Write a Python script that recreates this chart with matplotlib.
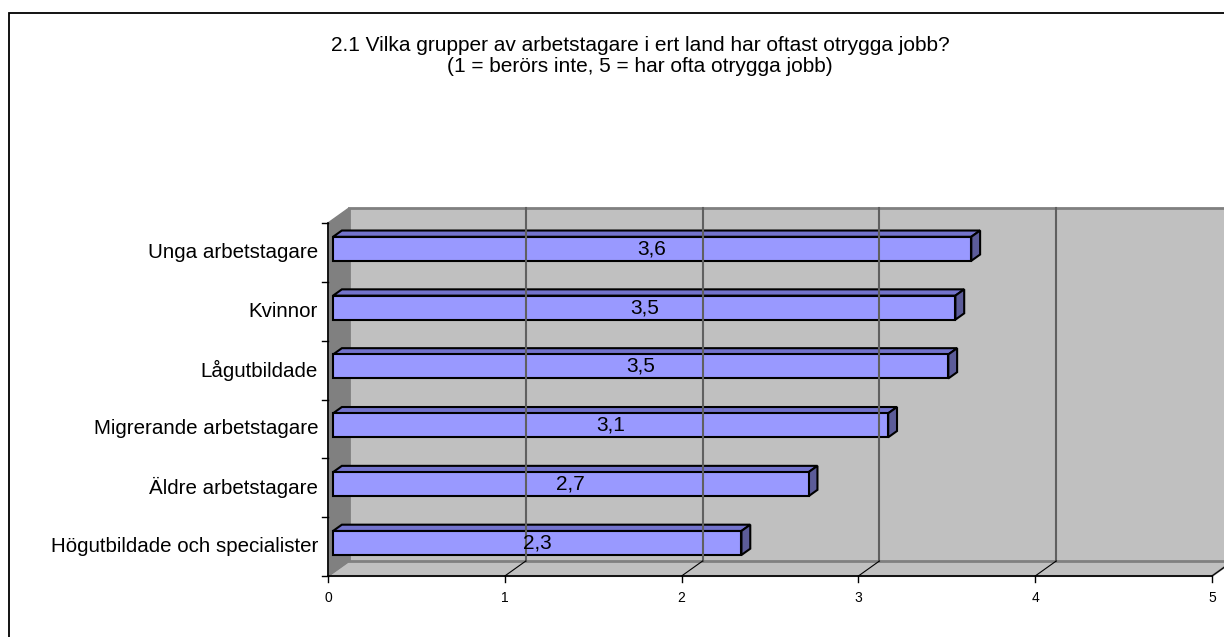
import matplotlib
matplotlib.use("Agg")
import matplotlib.pyplot as plt
from matplotlib.patches import Polygon, Rectangle

categories = ["Högutbildade och specialister", "Äldre arbetstagare",
              "Migrerande arbetstagare", "Lågutbildade", "Kvinnor",
              "Unga arbetstagare"]
values = [2.31, 2.69, 3.14, 3.48, 3.52, 3.61]
labels = ["2,3", "2,7", "3,1", "3,5", "3,5", "3,6"]
xticks = [0, 1, 2, 3, 4, 5]
title = ("2.1 Vilka grupper av arbetstagare i ert land har oftast otrygga jobb?\n"
         "(1 = berörs inte, 5 = har ofta otrygga jobb)")

plt.rcParams['font.family'] = ['Liberation Sans', 'DejaVu Sans']

W, H = 1224, 637
fig = plt.figure(figsize=(W / 100, H / 100), dpi=100)

# outer chart frame (left and top visible)
fig.patches.append(Rectangle((9 / W, -0.2), 1.2, (H - 13) / H + 0.2,
                             transform=fig.transFigure, fill=False,
                             edgecolor='black', lw=1.3))

x0p, x1p, y0p, y1p = 328, 1212, 576, 223
ax = fig.add_axes([x0p / W, (H - y0p) / H, (x1p - x0p) / W, (y0p - y1p) / H])
xmax = 5
n = len(categories)
ax.set_xlim(0, xmax)
ax.set_ylim(0, n)
ax.axis('off')

ux = (x1p - x0p) / xmax     # px per x unit
uy = (y0p - y1p) / n        # px per category
DX = 21 / ux
DY = 15 / uy

kw = dict(clip_on=False)
# floor
ax.add_patch(Polygon([(0, 0), (xmax, 0), (xmax + DX, DY), (DX, DY)],
                     closed=True, facecolor='#c0c0c0', edgecolor='#808080',
                     lw=1.5, **kw))
# back wall
ax.add_patch(Polygon([(DX, DY), (xmax + DX, DY), (xmax + DX, n + DY), (DX, n + DY)],
                     closed=True, facecolor='#c0c0c0', edgecolor='#808080',
                     lw=2, **kw))
# left wall
ax.add_patch(Polygon([(0, 0), (DX, DY), (DX, n + DY), (0, n)],
                     closed=True, facecolor='#808080', edgecolor='#808080',
                     lw=1, **kw))
# gridlines
for t in xticks[1:]:
    ax.plot([t + DX, t + DX], [DY, n + DY], color='#606060', lw=1.5, **kw)
    ax.plot([t, t + DX], [0, DY], color='black', lw=0.8, **kw)

# axes lines and ticks
ax.plot([0, 0], [0, n], color='black', lw=1.2, **kw)
ax.plot([0, xmax], [0, 0], color='black', lw=1.2, **kw)
tlx = 6 / ux
tly = 6 / uy
for k in range(n + 1):
    ax.plot([-tlx, 0], [k, k], color='black', lw=1, **kw)
for t in xticks:
    ax.plot([t, t], [-tly, 0], color='black', lw=1, **kw)
    ax.text(t, -22 / uy, str(t), ha='center', va='center', fontsize=10)

# bars
d0, d1 = 0.24, 0.66
h = 24 / uy
ox, oy = d0 * DX, d0 * DY
ddx, ddy = (d1 - d0) * DX, (d1 - d0) * DY
front_c, top_c, side_c = '#9999ff', '#7373cc', '#5c5c99'
for i, (v, lab) in enumerate(zip(values, labels)):
    c = i + 0.5
    yb = c - h / 2 + oy
    yt = c + h / 2 + oy
    xa, xb = ox, v + ox
    ax.add_patch(Polygon([(xa, yt), (xb, yt), (xb + ddx, yt + ddy), (xa + ddx, yt + ddy)],
                         closed=True, facecolor=top_c, edgecolor='black', lw=1.5, **kw))
    ax.add_patch(Polygon([(xb, yb), (xb, yt), (xb + ddx, yt + ddy), (xb + ddx, yb + ddy)],
                         closed=True, facecolor=side_c, edgecolor='black', lw=1.5, **kw))
    ax.add_patch(Polygon([(xa, yb), (xb, yb), (xb, yt), (xa, yt)],
                         closed=True, facecolor=front_c, edgecolor='black', lw=1.5, **kw))
    ax.text((xa + xb) / 2, c + oy, lab, ha='center', va='center', fontsize=15)
    ax.text(-10 / ux, c, categories[i], ha='right', va='center', fontsize=14.8)

fig.text(640 / W, 1 - 56 / H, title, ha='center', va='center', fontsize=15,
         linespacing=1.15)

fig.savefig("out.png", dpi=100)
